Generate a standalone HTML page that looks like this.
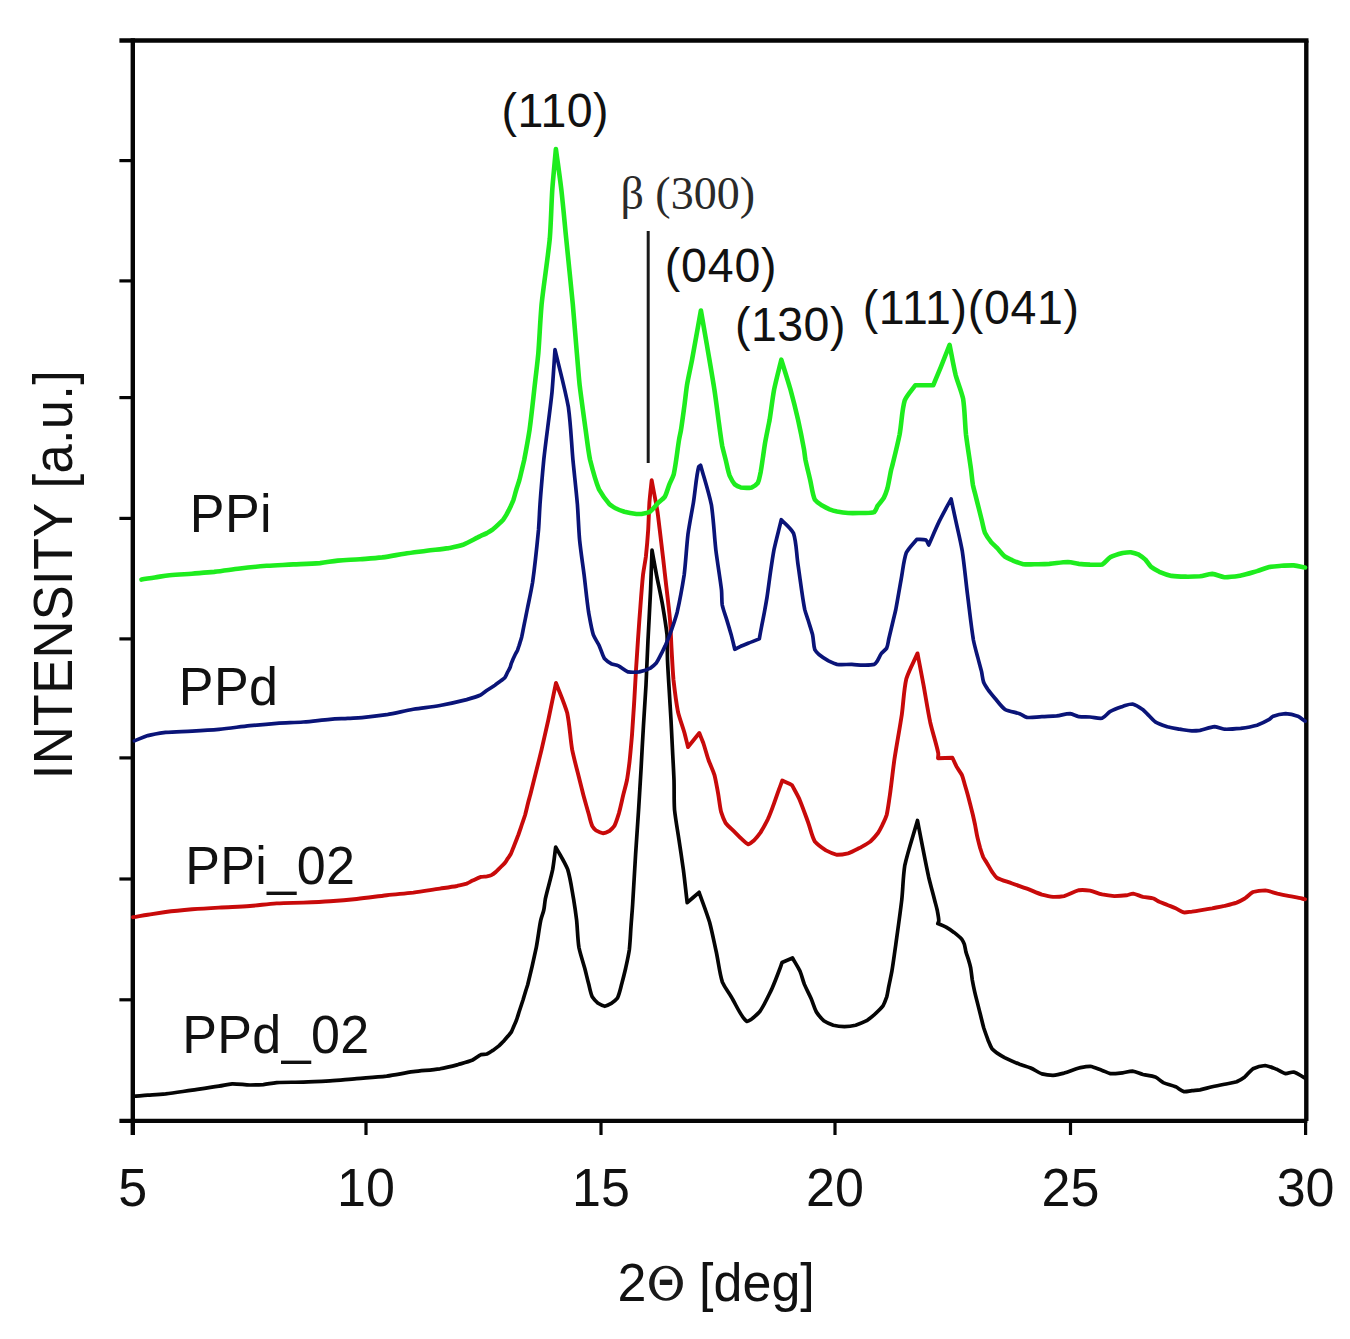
<!DOCTYPE html>
<html><head><meta charset="utf-8"><style>
html,body{margin:0;padding:0;background:#fff;}
body{width:1350px;height:1339px;overflow:hidden;font-family:"Liberation Sans",sans-serif;}
svg{display:block;}
</style></head><body>
<svg xmlns="http://www.w3.org/2000/svg" width="1350" height="1339" viewBox="0 0 1350 1339"><rect width="1350" height="1339" fill="#fff"/><g stroke="#050505" fill="none" stroke-linecap="butt"><line x1="132.8" y1="38.3" x2="132.8" y2="1135" stroke-width="4.4"/><line x1="119.4" y1="40.5" x2="1308.5" y2="40.5" stroke-width="4.6"/><line x1="1306.3" y1="40.5" x2="1306.3" y2="1120.9" stroke-width="4.4"/><line x1="119.4" y1="1120.9" x2="1307.3" y2="1120.9" stroke-width="4.4"/><line x1="119.4" y1="160.6" x2="132.8" y2="160.6" stroke-width="3.2"/><line x1="119.4" y1="280.9" x2="132.8" y2="280.9" stroke-width="3.2"/><line x1="119.4" y1="397.6" x2="132.8" y2="397.6" stroke-width="3.2"/><line x1="119.4" y1="518.4" x2="132.8" y2="518.4" stroke-width="3.2"/><line x1="119.4" y1="638.9" x2="132.8" y2="638.9" stroke-width="3.2"/><line x1="119.4" y1="757.9" x2="132.8" y2="757.9" stroke-width="3.2"/><line x1="119.4" y1="879.0" x2="132.8" y2="879.0" stroke-width="3.2"/><line x1="119.4" y1="999.8" x2="132.8" y2="999.8" stroke-width="3.2"/><line x1="366.0" y1="1120.9" x2="366.0" y2="1135" stroke-width="3.2"/><line x1="601.0" y1="1120.9" x2="601.0" y2="1135" stroke-width="3.2"/><line x1="835.0" y1="1120.9" x2="835.0" y2="1135" stroke-width="3.2"/><line x1="1070.5" y1="1120.9" x2="1070.5" y2="1135" stroke-width="3.2"/><line x1="1305.6" y1="1120.9" x2="1305.6" y2="1135" stroke-width="3.2"/></g><line x1="648.2" y1="231" x2="648.2" y2="463" stroke="#1a1a1a" stroke-width="3"/><g fill="none" stroke-linejoin="round" stroke-linecap="round"><path d="M133.0,1096.4C137.9,1096.0 142.7,1095.5 147.8,1095.1C153.6,1094.7 159.3,1094.4 165.6,1093.8C173.9,1092.8 183.3,1091.4 192.2,1090.2C201.1,1088.9 211.0,1087.5 218.9,1086.2C223.8,1085.4 227.5,1084.3 232.2,1083.8C237.8,1083.7 244.3,1084.8 250.0,1085.0C254.6,1085.0 258.9,1084.9 263.3,1084.6C267.8,1084.1 271.7,1083.1 276.7,1082.6C284.6,1082.1 294.4,1082.4 303.3,1082.1C312.2,1081.8 321.1,1081.3 330.0,1080.8C338.9,1080.2 347.6,1079.3 356.7,1078.6C366.5,1077.8 376.9,1077.2 386.7,1076.1C395.8,1074.8 404.4,1073.0 413.3,1071.7C422.2,1070.6 431.7,1070.0 440.0,1068.8C446.4,1067.6 452.2,1066.1 458.0,1064.6C463.1,1063.1 468.2,1061.8 472.6,1060.0C475.7,1058.4 478.3,1055.8 481.0,1054.6C483.0,1054.1 485.0,1054.5 486.9,1054.0C488.9,1053.1 490.9,1051.7 492.9,1050.4C494.9,1049.0 497.0,1047.4 498.9,1045.9C500.5,1044.4 501.9,1042.9 503.4,1041.4C504.9,1039.8 506.4,1038.0 507.8,1036.3C509.0,1034.8 510.4,1033.4 511.4,1031.9C512.2,1030.3 512.8,1028.7 513.5,1027.0C514.4,1024.8 515.5,1022.5 516.5,1020.0C517.6,1016.9 518.6,1013.3 519.7,1010.0C520.8,1006.7 521.9,1003.3 523.0,1000.0C524.0,996.7 525.1,993.0 526.0,990.0C526.6,988.1 527.0,987.0 527.7,984.7C529.9,975.9 533.8,959.2 536.3,947.3C538.1,937.8 539.2,927.6 540.8,920.0C541.8,916.1 543.0,913.4 543.8,910.0C544.5,906.5 544.6,903.4 545.3,899.2C547.1,890.9 550.7,878.9 552.7,869.4C554.0,861.6 554.7,854.5 555.7,847.0C559.7,854.5 564.4,861.4 567.7,869.4C570.5,878.7 571.9,889.8 573.6,899.2C574.8,906.5 575.7,912.8 576.6,920.0C577.5,928.7 577.6,938.6 578.9,947.3C580.5,954.7 583.0,961.8 584.8,968.5C586.2,973.7 587.2,978.5 588.5,983.3C589.7,987.8 590.5,992.9 592.2,996.7C593.9,999.3 596.0,1001.5 598.1,1003.3C600.2,1004.6 602.6,1005.9 604.8,1006.3C607.0,1005.9 609.4,1004.5 611.5,1003.3C613.6,1001.8 615.7,1000.3 617.4,998.1C619.4,994.1 620.5,988.2 621.9,983.3C623.2,978.4 624.4,973.6 625.6,968.5C626.9,962.6 628.3,956.5 629.3,950.0C630.2,942.1 630.5,933.0 631.1,924.9C631.6,918.0 632.1,912.6 632.6,905.0C633.5,890.6 634.6,870.9 635.6,854.4C636.6,839.2 637.6,824.2 638.6,809.6C639.4,796.1 640.2,783.5 641.0,770.0C641.8,755.3 642.6,739.7 643.5,725.0C644.3,711.4 645.2,698.6 646.0,685.0C646.7,670.3 647.3,655.3 648.0,640.0C648.8,623.5 649.9,605.8 650.6,589.7C651.2,576.0 651.5,563.4 652.0,550.2C653.5,558.4 654.9,566.3 656.5,574.8C658.4,584.5 660.7,594.7 662.5,604.7C664.2,614.7 665.9,624.9 667.0,634.6C667.5,643.3 667.2,651.3 667.5,660.0C667.9,669.7 668.6,680.0 669.2,690.0C669.8,700.0 670.4,710.0 671.0,720.0C671.5,730.0 672.0,740.0 672.5,750.0C673.0,760.0 673.6,770.0 674.0,780.0C674.3,789.9 673.9,799.7 674.5,809.6C675.6,819.7 677.5,829.9 679.0,840.0C680.5,850.0 682.0,859.8 683.4,869.9C684.8,880.7 685.9,891.8 687.2,902.7C691.2,899.2 695.1,895.8 699.1,892.3C702.6,902.3 706.5,912.2 709.6,922.2C712.2,932.1 714.1,942.1 716.3,952.0C718.4,962.0 719.6,973.2 722.3,981.9C724.9,987.6 727.9,991.4 731.2,996.8C735.9,1004.4 741.5,1018.0 746.9,1021.5C751.0,1020.8 755.7,1015.8 759.6,1011.8C764.1,1005.6 767.9,996.9 771.6,989.4C774.9,982.0 778.4,972.6 780.5,967.0C781.2,965.1 781.5,964.0 782.0,962.5C785.5,961.0 789.0,959.5 792.5,958.0C795.0,962.4 797.8,966.7 800.0,971.1C801.8,975.5 802.7,980.0 804.4,984.4C806.4,989.1 809.0,993.8 811.1,998.5C813.0,1003.0 814.2,1007.8 816.3,1011.9C818.5,1015.2 820.9,1018.2 823.7,1020.7C826.6,1022.6 830.0,1024.0 833.3,1025.2C836.9,1026.0 840.7,1026.5 844.4,1026.7C848.1,1026.5 851.9,1026.0 855.6,1025.2C859.3,1024.0 863.3,1022.4 866.7,1020.7C869.4,1018.9 871.6,1016.9 874.1,1014.8C877.0,1012.1 880.6,1009.0 883.0,1005.9C884.6,1003.0 885.6,1000.1 886.7,997.0C887.6,993.5 888.1,989.8 888.9,985.9C889.8,981.2 890.9,976.5 891.9,971.1C893.2,963.1 894.4,954.0 895.8,944.4C897.7,930.7 900.1,913.9 901.8,899.6C903.0,887.7 903.0,877.2 904.8,865.3C908.0,850.9 913.3,835.4 917.5,820.5C918.7,827.0 919.8,832.8 921.2,839.9C923.4,851.0 926.2,865.8 928.7,877.2C930.7,885.4 932.9,893.3 934.6,900.0C935.6,903.9 936.5,907.0 937.3,910.5C937.9,914.0 938.8,918.2 938.8,920.9C938.6,922.0 938.1,922.6 937.8,923.5C940.6,924.7 943.4,925.8 946.1,927.2C948.8,928.8 951.4,930.5 954.0,932.4C956.7,934.5 959.7,936.9 961.8,939.2C963.0,940.9 963.7,942.5 964.4,944.4C965.1,946.8 965.4,949.7 966.0,952.3C966.8,954.9 967.8,957.5 968.6,960.1C969.4,962.7 970.1,965.2 970.7,968.0C971.3,971.7 971.7,976.0 972.3,980.0C973.0,984.0 973.8,987.9 974.7,991.9C975.6,995.9 976.7,999.9 977.7,1003.9C978.7,1007.9 979.7,1011.8 980.7,1015.8C981.7,1019.8 982.6,1023.8 983.7,1027.8C985.0,1031.8 986.5,1035.9 987.9,1039.7C989.2,1042.9 990.4,1046.2 992.0,1048.7C993.5,1050.4 995.0,1051.5 996.8,1052.9C999.2,1054.5 1001.7,1056.1 1004.6,1057.7C1009.0,1059.9 1014.8,1062.4 1019.6,1064.3C1023.5,1065.7 1027.0,1066.6 1030.7,1068.0C1034.5,1069.7 1038.1,1072.4 1041.9,1073.9C1045.5,1074.8 1049.3,1075.3 1053.0,1075.4C1056.7,1075.0 1060.3,1074.1 1064.1,1073.1C1068.8,1071.7 1074.2,1069.3 1078.9,1068.0C1082.7,1067.2 1086.3,1066.3 1090.0,1066.3C1094.0,1067.0 1098.4,1069.1 1102.2,1070.4C1105.1,1071.5 1107.5,1072.9 1110.4,1073.6C1114.2,1073.9 1118.7,1073.2 1122.6,1072.8C1126.0,1072.4 1129.1,1071.2 1132.4,1071.2C1135.9,1071.7 1139.4,1073.5 1143.0,1074.5C1147.0,1075.4 1151.5,1075.6 1155.2,1076.9C1158.2,1078.4 1160.3,1080.9 1163.3,1082.6C1167.0,1084.2 1171.8,1085.1 1175.6,1086.7C1178.5,1088.2 1180.9,1090.6 1183.7,1091.6C1186.4,1091.9 1189.2,1091.0 1191.9,1090.7C1194.6,1090.4 1197.1,1090.3 1200.0,1089.9C1203.8,1089.1 1208.1,1087.7 1212.2,1086.7C1216.3,1085.8 1220.4,1085.0 1224.5,1084.2C1228.6,1083.4 1233.0,1083.0 1236.7,1081.8C1239.7,1080.4 1242.2,1078.8 1244.8,1076.9C1247.6,1074.5 1249.9,1070.9 1253.0,1068.7C1256.7,1067.0 1261.1,1065.8 1265.2,1065.5C1269.3,1066.1 1273.6,1068.2 1277.4,1069.6C1280.3,1070.9 1282.8,1072.9 1285.6,1073.6C1288.3,1073.6 1290.9,1071.9 1293.7,1072.0C1297.3,1073.0 1301.2,1076.0 1305.0,1078.0" stroke="#050505" stroke-width="3.7"/><path d="M133.0,917.2C137.9,916.4 142.7,915.5 147.8,914.7C153.6,913.8 159.3,912.9 165.6,912.0C173.9,911.0 183.3,910.1 192.2,909.3C201.1,908.6 209.8,908.1 218.9,907.6C229.0,907.0 239.9,906.7 250.0,906.0C259.1,905.2 267.8,904.1 276.7,903.4C285.6,902.9 294.4,902.9 303.3,902.6C312.2,902.2 321.1,901.8 330.0,901.2C338.9,900.6 347.6,899.9 356.7,899.0C366.5,897.9 376.9,896.4 386.7,895.2C395.7,894.2 404.4,893.6 413.3,892.6C422.2,891.4 431.8,889.8 440.0,888.6C446.1,887.7 451.9,886.9 457.0,886.0C460.5,885.2 463.8,884.6 466.7,883.6C468.9,882.7 470.5,881.6 472.6,880.6C475.2,879.4 478.3,877.8 481.0,876.9C483.0,876.5 485.0,876.7 486.9,876.4C488.6,876.0 490.2,875.6 491.7,874.9C493.2,874.1 494.5,873.0 495.9,871.9C497.4,870.5 498.9,868.9 500.4,867.4C501.9,865.9 503.6,864.4 504.9,862.9C506.0,861.4 506.8,859.9 507.8,858.4C508.8,856.9 509.9,855.6 510.8,854.0C511.7,852.1 512.3,850.2 513.2,848.0C514.7,844.2 516.7,839.2 518.3,835.0C519.5,831.5 520.6,828.3 521.7,825.0C522.8,821.7 524.0,818.5 525.1,815.0C526.2,810.9 527.3,805.9 528.3,802.0C529.0,799.3 529.6,797.4 530.3,794.7C531.4,790.4 532.6,785.5 534.0,780.0C536.2,771.1 539.1,759.9 541.5,749.9C543.8,739.9 546.0,730.3 548.3,720.0C550.8,708.1 553.4,695.3 556.0,683.0C559.8,693.1 564.2,702.8 567.3,713.3C569.7,725.0 570.2,738.1 572.2,749.9C574.4,760.3 577.4,771.1 579.6,780.0C581.0,785.5 582.0,789.7 583.3,794.8C584.9,800.8 586.9,807.5 588.5,813.3C589.8,817.8 590.7,822.5 592.2,825.9C593.3,827.7 594.4,829.1 595.9,830.4C598.0,831.6 600.9,832.9 603.3,833.3C605.4,833.1 607.4,832.1 609.3,831.1C611.1,829.7 612.9,828.0 614.4,825.9C616.2,822.4 617.5,817.8 618.9,813.3C620.5,807.5 621.9,800.7 623.3,794.8C624.6,789.7 625.9,785.1 627.0,780.0C628.0,774.2 628.7,768.4 629.5,762.0C630.4,753.6 631.2,744.2 632.0,735.0C632.7,725.2 633.3,715.3 634.0,705.0C634.7,693.6 635.3,682.4 636.0,670.0C637.0,654.2 638.2,636.1 639.4,619.6C640.6,604.4 641.7,587.8 643.0,575.0C643.9,568.0 645.0,563.1 645.9,556.5C646.8,548.1 647.6,538.6 648.2,529.6C648.7,520.6 648.9,511.4 649.4,502.7C650.0,495.0 650.9,487.8 651.7,480.3C653.6,490.8 655.9,502.2 657.5,511.7C658.4,518.2 658.9,523.2 659.7,529.6C660.7,538.0 661.9,548.1 662.9,556.5C663.7,563.0 664.2,568.0 665.0,575.0C666.4,587.8 668.7,605.8 670.0,619.6C670.7,629.7 671.0,638.4 671.5,648.0C672.1,658.5 672.6,669.3 673.5,680.0C674.7,690.7 676.1,702.1 678.0,712.0C679.9,719.5 682.6,726.4 684.5,733.0C685.8,738.0 686.8,742.3 688.0,747.0C691.8,742.3 695.5,737.7 699.3,733.0C700.6,736.3 702.0,739.4 703.3,743.0C705.0,748.2 706.7,754.5 708.5,760.0C710.4,765.1 712.7,769.6 714.4,774.8C715.9,780.7 716.9,787.1 718.1,793.3C719.2,799.5 719.8,806.3 721.1,811.9C722.4,816.0 723.7,819.7 725.6,823.0C727.7,825.8 730.5,827.9 733.0,830.4C735.5,832.9 737.9,835.4 740.4,837.8C743.0,840.1 745.8,843.5 748.3,844.3C750.4,843.8 752.4,841.7 754.4,840.0C756.5,837.8 758.4,835.4 760.4,832.6C762.9,828.6 765.5,823.9 767.8,819.3C770.0,814.5 771.8,809.4 773.7,804.4C775.5,799.5 777.3,794.1 778.9,789.6C780.1,786.3 781.2,783.5 782.3,780.5C785.5,782.1 788.8,783.6 792.0,785.2C794.5,789.9 797.1,794.3 799.5,799.4C802.4,806.3 805.3,814.6 808.0,822.0C810.4,828.6 811.8,836.0 814.8,841.5C818.0,845.2 822.1,847.9 825.9,850.4C829.5,852.3 833.3,854.0 837.0,854.8C840.7,854.9 844.4,854.2 848.1,853.3C851.9,852.0 855.6,850.0 859.3,848.1C863.0,846.0 867.0,844.0 870.4,841.5C873.2,839.0 875.6,836.2 877.8,833.3C879.8,830.3 881.4,826.9 883.0,823.7C884.4,820.7 885.6,818.2 886.7,814.8C888.0,809.1 888.8,802.2 889.9,795.0C891.4,784.3 892.7,771.8 894.4,759.5C896.6,745.1 899.6,729.1 901.8,714.7C903.5,702.3 903.8,690.0 906.3,678.8C909.3,669.7 913.8,661.9 917.5,653.4C919.5,663.9 921.5,674.0 923.5,684.8C925.7,696.9 927.7,710.1 930.2,722.2C932.7,733.0 937.0,746.0 938.3,753.5C938.4,755.5 938.1,756.6 938.0,758.2C942.8,758.0 947.6,757.9 952.4,757.7C953.8,760.7 955.1,763.7 956.6,766.6C958.2,769.5 960.4,772.1 961.9,775.0C963.2,778.2 963.9,781.7 964.9,785.0C965.9,788.3 966.9,791.7 967.8,795.0C968.7,798.3 969.5,801.7 970.4,805.0C971.2,808.3 972.1,811.7 972.9,815.0C973.6,818.2 974.3,821.2 975.0,824.5C975.7,828.2 976.3,832.0 977.1,835.8C978.0,839.8 979.1,844.0 980.1,847.8C981.1,851.0 982.0,854.0 983.1,856.8C984.2,858.9 985.4,860.6 986.7,862.7C988.4,865.5 990.2,868.9 992.0,871.7C993.6,873.9 994.7,875.9 996.8,877.7C1000.9,880.0 1007.1,881.6 1012.2,883.5C1017.2,885.3 1022.1,886.9 1027.0,888.7C1032.0,890.6 1037.1,893.0 1041.9,894.6C1045.7,895.6 1049.3,896.5 1053.0,896.9C1056.7,897.0 1060.3,896.8 1064.1,896.1C1068.9,894.7 1074.1,891.4 1078.9,890.2C1082.7,889.8 1086.3,890.1 1090.0,890.6C1094.0,891.5 1098.1,893.4 1102.2,894.4C1106.2,895.2 1110.3,895.8 1114.4,896.1C1118.5,896.1 1123.0,895.8 1126.7,895.3C1129.1,894.8 1130.9,893.7 1133.2,893.6C1136.3,894.1 1139.7,896.0 1143.0,896.9C1146.5,897.6 1150.5,897.6 1153.6,898.5C1155.7,899.4 1157.3,900.8 1159.3,901.8C1161.8,902.9 1164.7,903.9 1167.4,905.0C1170.1,906.1 1172.9,907.1 1175.6,908.3C1178.3,909.6 1180.9,911.6 1183.7,912.4C1186.4,912.6 1189.2,911.9 1191.9,911.6C1194.6,911.2 1197.1,910.8 1200.0,910.3C1203.8,909.7 1208.1,909.0 1212.2,908.3C1216.3,907.5 1220.4,906.8 1224.5,905.9C1228.6,904.9 1232.9,903.9 1236.7,902.6C1239.6,901.4 1242.1,900.1 1244.8,898.5C1247.6,896.6 1249.9,893.6 1253.0,892.0C1256.7,890.9 1261.1,890.4 1265.2,890.4C1269.3,890.9 1273.3,892.6 1277.4,893.6C1281.5,894.5 1285.5,895.3 1289.6,896.1C1293.7,896.9 1298.7,897.8 1301.9,898.5C1303.2,898.8 1304.0,899.0 1305.1,899.3" stroke="#c80a0a" stroke-width="3.9"/><path d="M134.4,740.9C138.9,739.1 143.1,737.1 147.8,735.6C153.4,734.2 159.3,733.3 165.6,732.4C173.9,731.7 183.3,731.6 192.2,731.1C201.1,730.6 209.8,730.1 218.9,729.3C229.0,728.3 239.9,726.8 250.0,725.7C259.1,724.8 267.8,724.0 276.7,723.3C285.6,722.7 294.4,722.6 303.3,722.0C312.2,721.3 321.7,720.0 330.0,719.3C336.3,718.9 342.1,718.7 347.8,718.4C352.7,718.1 356.8,718.0 362.0,717.6C369.5,716.9 378.4,715.9 386.7,714.7C395.5,713.2 404.4,710.9 413.3,709.3C422.2,707.9 431.1,707.0 440.0,705.5C448.9,703.8 458.8,701.6 466.7,699.6C471.7,698.2 476.1,697.0 480.0,695.3C482.8,693.7 485.0,691.7 487.5,690.0C490.0,688.4 492.5,686.8 494.9,685.2C497.0,683.7 499.0,682.1 500.9,680.7C502.3,679.7 503.7,679.0 504.8,677.8C505.9,676.2 506.6,674.1 507.5,672.4C508.3,670.9 509.2,669.4 509.9,667.9C510.5,666.4 510.8,664.9 511.3,663.4C511.9,661.9 512.5,660.5 513.1,659.0C513.8,657.5 514.5,656.0 515.2,654.5C515.9,653.1 516.7,651.9 517.4,650.5C518.0,649.0 518.4,647.5 519.0,645.8C519.8,643.1 520.9,639.9 521.7,636.9C522.4,633.9 522.9,630.9 523.5,627.9C524.1,624.9 524.7,622.0 525.3,619.0C525.9,616.0 526.4,613.5 527.1,610.0C528.6,602.4 530.9,592.5 532.6,582.3C534.8,566.7 537.0,545.5 538.5,530.0C539.2,520.5 539.4,513.6 540.0,504.3C541.0,490.7 542.3,475.4 543.8,459.5C546.1,438.6 549.8,413.1 552.0,392.3C553.3,377.1 554.0,363.9 555.0,349.7C559.5,368.9 564.9,388.3 568.4,407.2C570.8,424.8 571.4,442.5 572.9,459.5C574.4,474.8 576.1,489.9 577.4,504.3C578.3,516.6 578.6,528.2 579.6,540.0C580.8,551.7 582.6,563.1 584.1,574.8C585.6,587.1 586.9,600.8 588.6,612.2C590.1,620.4 591.3,628.2 593.3,634.8C595.1,639.0 597.4,642.1 599.3,645.9C601.1,650.0 602.3,655.0 604.4,658.5C606.4,660.7 608.7,662.3 611.1,663.7C613.5,664.7 616.0,664.9 618.5,665.9C621.6,667.5 624.7,670.6 628.1,671.9C631.7,672.5 635.6,672.3 639.3,671.9C643.0,671.0 647.2,669.7 650.4,668.1C652.7,666.6 654.5,665.0 656.3,663.0C658.2,660.2 659.9,656.4 661.5,653.3C662.8,650.7 663.9,648.7 665.2,645.9C667.1,641.5 669.2,636.3 671.1,631.1C673.2,625.1 675.3,619.2 677.2,612.2C679.7,601.1 682.2,587.5 684.2,574.8C685.8,561.4 686.5,547.0 688.0,534.0C689.6,523.1 691.6,513.4 693.4,502.7C695.2,491.0 696.6,473.8 698.7,466.9C699.3,466.0 700.0,465.8 700.6,465.2C704.2,478.4 708.5,491.3 711.4,504.8C713.6,519.4 714.2,534.9 715.8,549.6C717.5,563.3 720.2,578.7 721.5,590.0C722.0,595.7 721.6,599.9 722.2,604.8C723.3,609.8 725.2,614.7 726.7,619.6C728.2,624.5 729.7,629.5 731.1,634.4C732.4,639.4 733.6,644.3 734.8,649.3C736.8,648.3 738.6,647.3 740.7,646.3C743.1,645.3 745.5,644.4 748.1,643.3C751.6,641.9 755.6,640.4 759.3,638.9C760.0,634.9 760.7,631.1 761.5,627.0C762.4,622.2 763.5,617.1 764.4,612.2C765.3,607.3 766.1,602.8 767.0,597.4C768.2,589.7 769.3,580.3 770.5,572.0C771.6,564.4 772.6,557.4 774.0,549.6C776.1,540.1 778.9,529.7 781.3,519.7C785.4,524.2 790.3,527.7 793.5,533.2C796.4,542.0 796.4,553.5 798.0,564.6C800.1,578.7 802.4,597.9 804.7,609.4C805.8,613.8 806.9,616.3 808.1,620.0C809.5,624.7 811.3,629.8 812.6,634.8C813.6,639.7 813.5,645.6 814.8,649.6C816.0,651.8 817.5,653.1 819.3,654.8C821.8,656.8 825.1,659.0 828.1,660.7C831.0,662.1 833.7,663.5 837.0,664.4C841.5,665.0 847.2,664.3 851.9,664.4C855.8,664.6 859.3,665.1 863.0,665.2C866.7,665.1 871.3,665.2 874.1,664.4C875.4,663.6 876.0,662.7 877.0,661.5C878.5,659.3 879.8,655.8 881.5,653.3C883.1,651.4 885.3,650.1 886.7,648.1C887.9,645.3 888.1,642.0 888.9,638.5C890.2,633.0 892.0,625.6 893.3,620.0C894.2,616.2 894.9,613.6 895.8,609.5C897.4,601.2 899.3,589.4 901.1,579.6C902.8,570.5 903.6,560.5 906.3,552.7C909.2,547.5 913.3,543.8 916.8,539.3C919.9,539.5 923.6,539.1 926.0,540.0C927.3,541.2 927.8,543.3 928.7,545.0C932.2,537.1 935.5,529.2 939.2,521.4C943.0,513.8 947.1,506.5 951.1,499.0C952.6,506.0 954.0,512.5 955.6,519.9C957.7,529.7 960.3,540.2 962.3,551.2C964.3,564.9 965.7,580.0 967.5,594.6C969.4,609.6 971.3,627.1 973.4,640.0C974.8,646.9 976.4,652.2 977.9,657.9C979.1,662.6 980.4,667.0 981.5,671.4C982.3,675.2 982.6,679.2 983.7,682.6C984.8,685.1 986.3,687.0 987.8,689.3C989.9,692.2 992.4,695.2 994.9,698.2C998.0,701.8 1001.0,706.3 1004.8,709.3C1009.2,711.5 1015.3,712.2 1019.6,713.7C1022.4,714.9 1024.2,716.6 1027.0,717.4C1031.4,717.9 1036.9,716.9 1041.9,716.7C1046.8,716.4 1051.9,716.3 1056.7,715.9C1061.2,715.3 1065.9,713.7 1070.0,713.7C1073.2,714.2 1075.8,716.0 1078.9,716.7C1082.4,717.1 1086.2,716.8 1090.0,717.0C1094.0,717.3 1098.5,718.8 1102.2,718.2C1105.3,716.7 1107.4,713.3 1110.4,711.3C1114.1,709.4 1118.7,707.8 1122.6,706.4C1126.0,705.4 1129.1,704.0 1132.4,704.0C1135.9,705.0 1139.9,707.6 1143.0,709.7C1145.2,711.5 1146.8,713.5 1148.7,715.4C1150.8,717.5 1152.7,720.0 1155.2,721.9C1158.7,723.9 1163.3,725.4 1167.4,726.8C1171.4,727.9 1175.5,728.5 1179.6,729.2C1183.7,729.8 1188.1,730.6 1191.9,730.9C1194.8,730.9 1197.1,730.8 1200.0,730.4C1204.4,729.5 1210.1,727.0 1214.7,726.6C1218.2,726.9 1220.9,728.6 1224.5,729.2C1229.4,729.4 1235.3,728.9 1240.7,728.4C1246.1,727.6 1251.9,726.6 1257.0,725.2C1261.4,723.6 1266.0,721.3 1269.3,719.4C1270.9,718.3 1271.6,717.1 1273.3,716.2C1276.6,715.0 1281.5,714.0 1285.6,713.7C1289.7,714.0 1294.1,715.0 1297.8,716.2C1300.5,717.6 1302.7,719.5 1305.1,721.1" stroke="#0a1478" stroke-width="3.7"/><path d="M141.5,579.6C145.9,578.9 150.3,578.1 154.8,577.4C159.6,576.7 164.3,575.8 169.6,575.2C176.5,574.6 184.5,574.2 191.9,573.7C199.3,573.1 206.5,572.6 214.1,571.9C222.5,570.9 231.3,569.6 240.0,568.5C248.9,567.5 257.8,566.6 266.7,565.8C275.6,565.2 284.4,564.9 293.3,564.4C302.2,564.0 311.7,563.7 320.0,563.1C326.3,562.4 331.6,561.3 337.8,560.6C344.9,560.0 352.6,559.8 360.0,559.3C367.4,558.7 374.8,558.2 382.2,557.4C389.6,556.4 397.0,554.9 404.4,553.7C411.8,552.6 419.3,551.7 426.7,550.7C434.1,549.8 442.1,549.1 448.9,548.1C454.0,547.1 458.3,546.3 463.0,544.8C468.0,542.8 474.0,539.3 477.8,537.4C479.1,536.7 479.8,536.4 481.0,535.8C482.8,535.0 485.0,534.1 486.9,533.1C488.9,531.9 490.9,530.7 492.9,529.3C494.9,527.7 497.0,525.7 498.9,523.9C500.5,522.4 502.1,520.9 503.4,519.4C504.5,517.9 505.4,516.4 506.3,514.9C507.1,513.4 507.9,511.9 508.7,510.4C509.4,508.9 510.1,507.5 510.8,506.0C511.6,504.1 512.6,502.2 513.4,500.0C514.4,497.0 515.2,493.3 516.2,490.0C517.2,486.7 518.4,483.3 519.4,480.0C520.3,476.7 521.0,473.3 521.8,470.0C522.6,466.7 523.3,463.9 524.2,460.0C525.8,451.7 527.9,440.4 529.6,429.6C531.5,415.6 533.2,398.9 534.8,384.8C536.0,373.8 537.2,364.8 538.3,353.6C539.5,338.4 540.1,321.5 541.6,304.3C543.8,283.4 547.7,259.5 549.8,238.6C551.1,221.4 551.3,205.2 552.3,189.3C553.4,175.4 554.7,162.4 555.9,149.0C557.7,162.4 559.6,175.4 561.3,189.3C563.1,205.2 564.5,221.4 566.2,238.6C568.3,259.5 570.8,283.4 572.8,304.3C574.3,321.5 575.6,338.4 576.9,353.6C577.9,364.8 578.5,373.8 579.6,384.8C581.3,398.9 583.7,415.6 585.6,429.6C587.1,440.2 588.1,449.6 590.0,459.5C592.5,469.5 595.4,480.7 599.0,489.4C602.2,495.1 606.2,500.5 609.5,504.3C611.4,506.0 613.0,506.8 615.0,508.0C617.8,509.4 621.1,510.7 624.4,511.8C628.2,512.8 633.0,513.6 636.4,514.0C638.2,514.1 639.3,514.1 641.0,514.0C643.6,513.5 647.0,513.1 649.8,511.8C652.9,509.5 655.6,505.5 658.4,502.7C660.6,500.6 662.9,499.2 664.8,496.8C666.7,493.4 667.7,488.7 669.2,484.8C670.7,481.2 672.3,478.6 673.7,474.4C675.8,465.2 677.5,449.2 679.0,440.0C679.7,436.0 680.3,433.8 681.0,430.0C682.1,422.9 683.4,413.0 684.5,405.0C685.4,398.1 686.0,391.9 687.0,385.0C688.4,377.0 690.2,369.3 692.0,360.0C694.7,345.3 697.9,327.0 700.9,310.5C702.9,321.9 704.8,332.9 706.9,344.8C709.3,359.1 712.2,375.6 714.4,389.6C716.0,400.4 717.4,411.5 718.5,420.0C719.1,424.3 719.5,427.2 720.0,431.1C720.7,435.8 721.3,441.0 722.2,445.9C723.3,450.8 724.7,455.8 725.9,460.7C727.1,465.7 728.0,471.1 729.6,475.6C731.1,478.9 732.8,482.1 734.8,484.4C736.6,485.8 738.5,486.7 740.7,487.4C744.0,487.9 748.6,488.0 751.9,487.4C754.2,486.4 756.2,484.9 757.8,483.0C759.3,480.0 759.8,475.8 760.7,471.9C761.6,467.2 762.2,462.0 763.0,457.0C763.7,452.1 764.4,447.1 765.2,442.2C766.1,437.3 767.2,431.8 768.1,427.4C768.6,424.7 769.0,423.0 769.6,420.0C770.9,412.1 772.3,399.7 774.1,389.6C776.2,379.6 778.9,369.7 781.3,359.7C784.4,369.7 787.6,379.6 790.5,389.6C793.2,399.5 795.7,409.5 798.0,419.5C800.2,429.4 802.5,441.1 804.0,449.4C804.7,453.5 804.8,456.1 805.5,460.0C806.7,465.8 808.5,472.7 810.0,479.2C811.6,485.9 812.4,494.3 814.8,499.6C816.9,502.3 819.7,503.8 822.2,505.6C824.6,507.0 827.1,508.2 829.6,509.3C832.0,510.2 834.4,510.9 837.0,511.5C840.4,512.1 844.4,512.7 848.1,513.0C851.8,513.2 855.4,513.1 859.3,513.0C864.0,512.8 870.4,513.5 874.1,512.2C876.0,510.5 876.4,507.8 877.8,505.6C879.6,503.1 882.0,500.8 883.7,498.1C885.2,495.1 886.3,492.1 887.4,488.5C888.8,483.0 890.0,475.0 891.1,470.0C891.6,467.8 892.0,466.8 892.6,464.4C894.4,457.0 897.5,444.8 899.6,434.6C901.6,423.4 901.9,409.9 904.8,400.2C907.7,394.3 911.8,390.3 915.3,385.3C921.3,385.3 927.2,385.3 933.2,385.3C935.7,379.3 938.1,373.5 940.7,367.3C943.6,360.1 946.6,352.4 949.6,344.9C951.6,354.9 953.3,365.2 955.6,374.8C957.9,383.1 961.1,390.1 963.1,398.7C964.8,409.8 964.8,422.7 966.0,434.6C967.5,446.4 969.7,459.8 971.1,470.0C971.8,475.7 972.1,480.1 972.9,484.9C973.8,489.1 974.9,492.9 975.9,496.9C976.9,500.9 977.9,504.8 978.9,508.8C979.9,512.8 980.9,516.8 981.9,520.8C982.9,524.8 983.5,529.0 984.9,532.7C986.5,535.9 988.7,539.0 990.8,541.7C992.7,543.9 994.7,545.6 996.8,547.7C999.4,550.4 1002.0,554.1 1004.8,556.5C1007.2,558.1 1009.5,559.0 1012.2,560.2C1015.6,561.6 1019.6,563.3 1023.3,564.2C1027.0,564.6 1030.5,564.3 1034.4,564.3C1039.1,564.2 1044.2,564.2 1049.3,563.9C1055.3,563.4 1062.1,562.1 1067.8,562.0C1071.8,562.3 1075.2,563.4 1078.9,563.9C1082.6,564.3 1086.2,564.5 1090.0,564.6C1094.0,564.6 1098.5,565.3 1102.2,564.4C1105.3,562.7 1107.3,559.2 1110.4,557.1C1114.1,555.3 1118.8,554.0 1122.6,553.0C1125.5,552.5 1128.0,552.1 1130.7,552.2C1133.4,552.7 1136.3,553.6 1138.9,554.7C1141.2,556.1 1143.4,557.8 1145.4,559.6C1147.4,561.8 1148.9,564.7 1151.1,566.9C1153.6,568.8 1156.3,570.3 1159.3,571.8C1163.1,573.4 1167.2,574.9 1171.5,575.9C1176.6,576.6 1182.6,576.6 1187.8,576.7C1192.1,576.7 1195.9,576.6 1200.0,576.3C1204.1,575.7 1208.1,574.1 1212.2,573.9C1216.3,574.4 1220.2,576.6 1224.5,577.2C1229.6,577.3 1235.3,576.4 1240.7,575.6C1246.2,574.4 1251.8,572.6 1257.0,571.1C1261.3,569.7 1265.2,568.1 1269.3,567.0C1273.3,566.3 1277.4,566.1 1281.5,565.8C1285.6,565.6 1289.7,565.3 1293.7,565.4C1297.5,565.8 1301.2,566.8 1305.0,567.5" stroke="#1eec1e" stroke-width="4.6"/></g><text transform="translate(132.80,1205.60) scale(1,1.04)" font-size="52" text-anchor="middle" font-family="Liberation Sans, sans-serif" fill="#111">5</text><text transform="translate(366.00,1205.60) scale(1,1.04)" font-size="52" text-anchor="middle" font-family="Liberation Sans, sans-serif" fill="#111">10</text><text transform="translate(601.00,1205.60) scale(1,1.04)" font-size="52" text-anchor="middle" font-family="Liberation Sans, sans-serif" fill="#111">15</text><text transform="translate(835.00,1205.60) scale(1,1.04)" font-size="52" text-anchor="middle" font-family="Liberation Sans, sans-serif" fill="#111">20</text><text transform="translate(1070.50,1205.60) scale(1,1.04)" font-size="52" text-anchor="middle" font-family="Liberation Sans, sans-serif" fill="#111">25</text><text transform="translate(1305.60,1205.60) scale(1,1.04)" font-size="52" text-anchor="middle" font-family="Liberation Sans, sans-serif" fill="#111">30</text><text transform="translate(617.60,1300.80) scale(1,1.04)" font-size="52" text-anchor="start" font-family="Liberation Sans, sans-serif" fill="#111">2</text><text transform="translate(699.10,1300.80) scale(1,1.04)" font-size="52" text-anchor="start" font-family="Liberation Sans, sans-serif" fill="#111">[deg]</text><path fill-rule="evenodd" fill="#1a1a1a" d="M649.1,1283.25 a16.9,17.55 0 1,0 33.8,0 a16.9,17.55 0 1,0 -33.8,0 Z M654.4,1283.25 a11.6,15.0 0 1,0 23.2,0 a11.6,15.0 0 1,0 -23.2,0 Z"/><rect x="659.8" y="1279.6" width="12.4" height="5.4" fill="#1a1a1a"/><text transform="translate(72.00,574.60) rotate(-90) scale(1,1.04)" font-size="52.5" text-anchor="middle" font-family="Liberation Sans, sans-serif" fill="#111" letter-spacing="0.3">INTENSITY [a.u.]</text><text transform="translate(555.30,126.80) scale(1,1.04)" font-size="46.5" text-anchor="middle" font-family="Liberation Sans, sans-serif" fill="#111" letter-spacing="0.5">(110)</text><text transform="translate(721.10,281.80) scale(1,1.04)" font-size="46.5" text-anchor="middle" font-family="Liberation Sans, sans-serif" fill="#111" letter-spacing="0.8">(040)</text><text transform="translate(790.40,340.90) scale(1,1.04)" font-size="46.5" text-anchor="middle" font-family="Liberation Sans, sans-serif" fill="#111" letter-spacing="0.5">(130)</text><text transform="translate(971.20,323.50) scale(1,1.04)" font-size="46.5" text-anchor="middle" font-family="Liberation Sans, sans-serif" fill="#111" letter-spacing="0.7">(111)(041)</text><text transform="translate(189.80,532.40) scale(1,1.04)" font-size="52" text-anchor="start" font-family="Liberation Sans, sans-serif" fill="#111" letter-spacing="0.4">PPi</text><text transform="translate(178.80,704.80) scale(1,1.04)" font-size="52" text-anchor="start" font-family="Liberation Sans, sans-serif" fill="#111" letter-spacing="0.4">PPd</text><text transform="translate(185.20,883.70) scale(1,1.04)" font-size="52" text-anchor="start" font-family="Liberation Sans, sans-serif" fill="#111" letter-spacing="0.4">PPi_02</text><text transform="translate(182.20,1053.30) scale(1,1.04)" font-size="52" text-anchor="start" font-family="Liberation Sans, sans-serif" fill="#111" letter-spacing="0.4">PPd_02</text><text transform="translate(687.70,208.90) scale(1,1.0)" font-size="46" text-anchor="middle" font-family="Liberation Serif, serif" fill="#2a2a2a">β (300)</text></svg>
</body></html>
